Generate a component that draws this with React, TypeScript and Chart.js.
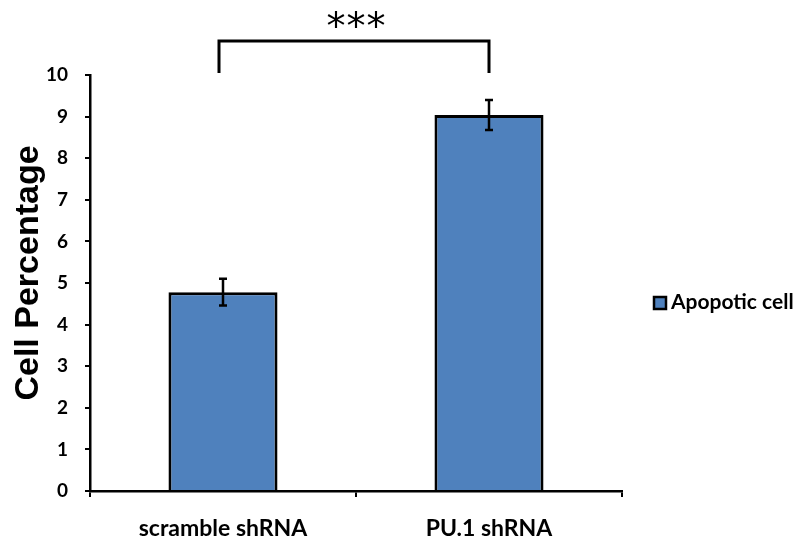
import React, { useEffect, useRef } from "react";
import { Chart, registerables } from "chart.js";

Chart.register(...registerables);

const categories = ["scramble shRNA", "PU.1 shRNA"];
const values = [4.78, 9.04];
const errors = [0.32, 0.36];
const seriesLabel = "Apopotic cell";
const significance = "***";
const yMin = 0;
const yMax = 10;
const yStep = 1;

const BAR_COLOR = "#4F81BD";
const FONT_LABEL = "Lato, 'Open Sans', sans-serif";
const FONT_TITLE = "'Liberation Sans', Arial, sans-serif";

const overlayPlugin = {
  id: "overlay",
  afterDatasetsDraw(chart: any) {
    const ctx = chart.ctx;
    const meta = chart.getDatasetMeta(0);
    const yScale = chart.scales.y;
    ctx.save();
    ctx.strokeStyle = "#000";
    ctx.lineWidth = 2.5;
    meta.data.forEach((bar: any, i: number) => {
      const x = bar.x;
      const top = yScale.getPixelForValue(values[i] + errors[i]);
      const bot = yScale.getPixelForValue(values[i] - errors[i]);
      ctx.beginPath();
      ctx.moveTo(x, top);
      ctx.lineTo(x, bot);
      ctx.moveTo(x - 4, top);
      ctx.lineTo(x + 4, top);
      ctx.moveTo(x - 4, bot);
      ctx.lineTo(x + 4, bot);
      ctx.stroke();
    });
    ctx.restore();
  },
  afterDraw(chart: any) {
    const ctx = chart.ctx;
    const meta = chart.getDatasetMeta(0);
    const x1 = meta.data[0].x - 4;
    const x2 = meta.data[1].x;
    const legTop = 41;
    const legBottom = 73;
    ctx.save();
    // bracket
    ctx.strokeStyle = "#000";
    ctx.lineWidth = 3;
    ctx.lineJoin = "miter";
    ctx.beginPath();
    ctx.moveTo(x1, legBottom);
    ctx.lineTo(x1, legTop);
    ctx.lineTo(x2, legTop);
    ctx.lineTo(x2, legBottom);
    ctx.stroke();
    // stars
    ctx.fillStyle = "#000";
    ctx.font = "38px 'DejaVu Sans', sans-serif";
    ctx.textAlign = "center";
    ctx.textBaseline = "alphabetic";
    const cx = (x1 + x2) / 2 + 2;
    const chars = significance.split("");
    chars.forEach((c, i) => {
      ctx.fillText(c, cx + (i - (chars.length - 1) / 2) * 20, 39);
    });
    // y title
    ctx.save();
    ctx.translate(29, 273);
    ctx.rotate(-Math.PI / 2);
    ctx.font = "bold 34px " + FONT_TITLE;
    ctx.textAlign = "center";
    ctx.textBaseline = "middle";
    ctx.fillText("Cell Percentage", 0, 0);
    ctx.restore();
    // legend
    ctx.fillStyle = BAR_COLOR;
    ctx.fillRect(654, 297, 12, 12);
    ctx.strokeStyle = "#000";
    ctx.lineWidth = 2.5;
    ctx.strokeRect(654, 297, 12, 12);
    ctx.fillStyle = "#000";
    ctx.font = "bold 21px " + FONT_LABEL;
    ctx.textAlign = "left";
    ctx.textBaseline = "alphabetic";
    ctx.fillText(seriesLabel, 671, 309);
    ctx.restore();
  },
};

export default function App() {
  const ref = useRef<HTMLCanvasElement>(null);
  useEffect(() => {
    if (!ref.current) return;
    const chart = new Chart(ref.current, {
      type: "bar",
      data: {
        labels: categories,
        datasets: [
          {
            label: seriesLabel,
            data: values,
            backgroundColor: BAR_COLOR,
            borderColor: "#000",
            borderWidth: 3,
            categoryPercentage: 1,
            barPercentage: 0.41,
          },
        ],
      },
      options: {
        responsive: false,
        animation: false,
        devicePixelRatio: 1,
        layout: { padding: { left: 0, right: 175, top: 75, bottom: 0 } },
        plugins: {
          legend: { display: false },
          tooltip: { enabled: false },
        },
        scales: {
          x: {
            grid: {
              offset: true,
              drawOnChartArea: false,
              drawTicks: true,
              tickLength: 6,
              color: "#000",
              lineWidth: 2,
            },
            border: { display: true, color: "#000", width: 2.5 },
            ticks: {
              color: "#000",
              padding: 18,
              font: { family: FONT_LABEL, size: 23, weight: "bold" },
            },
            afterFit: (s: any) => {
              s.height = 46;
            },
          },
          y: {
            min: yMin,
            max: yMax,
            ticks: {
              stepSize: yStep,
              color: "#000",
              padding: 17,
              font: { family: FONT_LABEL, size: 19, weight: "bold" },
            },
            grid: {
              drawOnChartArea: false,
              drawTicks: true,
              tickLength: 5,
              color: "#000",
              lineWidth: 2,
            },
            border: { display: true, color: "#000", width: 2.5 },
            afterFit: (s: any) => {
              s.width = 90;
            },
          },
        },
      },
      plugins: [overlayPlugin],
    });
    return () => chart.destroy();
  }, []);
  return (
    <div style={{ position: "fixed", left: 0, top: 0, width: 797, height: 537, background: "#fff" }}>
      <canvas ref={ref} width={797} height={537} style={{ display: "block" }} />
    </div>
  );
}
